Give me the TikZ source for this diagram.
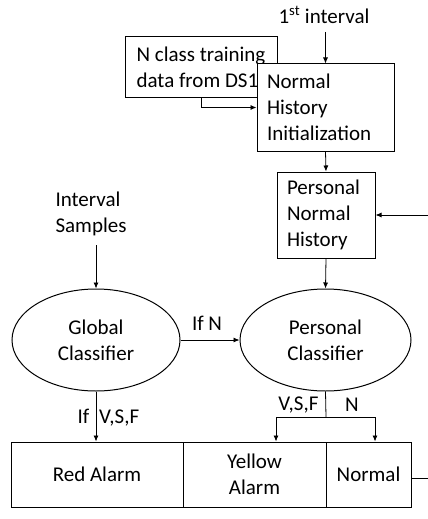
\documentclass[tikz,border=0pt]{standalone}
\usepackage{fontspec}
\setmainfont{Carlito}
\usetikzlibrary{arrows.meta,shapes.geometric}

\tikzset{
    box/.style = {draw, line width=1pt, fill=white, align=left, inner xsep=10pt, anchor=center},
    oval/.style = {draw, ellipse, line width=1pt, align=center, inner sep=0pt},
    arr/.style = {line width=0.8pt, -{Latex[length=6pt,width=5pt]}},
    lin/.style = {line width=0.8pt}
}

\begin{document}
\begin{tikzpicture}[x=1pt, y=-1pt, font=\fontsize{21}{26}\selectfont]
        \useasboundingbox (0,0) rectangle (428,519);

        % top label
        \node (first) at (324,15) {1\textsuperscript{st} interval};

        % training data box
        \node[box, minimum width=152pt, minimum height=60pt] (ncls) at (201,67)
            {N class training\\data from DS1};

        % normal history init box
        \node[box, minimum width=137pt, minimum height=87pt, text width=117pt] (nhi) at (325.5,107.5)
            {Normal\\History\\Initialization};

        % personal normal history box
        \node[box, minimum width=98pt, minimum height=86pt, text width=78pt] (pnh) at (326,215)
            {Personal\\Normal\\History};

        % samples text
        \node[align=left, anchor=west] (samples) at (52,214) {Interval\\Samples};

        % classifiers
        \node[oval, minimum width=168pt, minimum height=102pt] (global) at (96,340) {Global\\Classifier};
        \node[oval, minimum width=171pt, minimum height=102pt] (pcls) at (325.5,340) {Personal\\Classifier};

        % alarm boxes
        \node[box, align=center, minimum width=172pt, minimum height=65pt] (red) at (97,474.5) {Red Alarm};
        \node[box, align=center, minimum width=143pt, minimum height=65pt] (yellow) at (254.5,474.5) {Yellow\\Alarm};
        \node[box, align=center, minimum width=85pt, minimum height=65pt] (normal) at (368.5,474.5) {Normal};

        % free ends
        \coordinate (fbin) at (428,215);
        \coordinate (fbout) at (428,478);
        \coordinate (split) at (326,417);

        % arrows top
        \draw[arr] (nhi.north |- 0,32) -- (nhi.north);
        \draw[arr] (ncls.south) |- (nhi.west);
        \draw[arr] (nhi.south) -- (pnh.north);
        \draw[arr] (fbin) -- (pnh.east);

        % arrows middle
        \draw[arr] (global.north |- 0,245) -- (global.north);
        \draw[arr] (pnh.south) -- (pcls.north);
        \draw[arr] (global.east) -- (pcls.west);
        \node (ifn) at (207,323) {If N};

        % arrows bottom
        \draw[arr] (global.south) -- (global.south |- red.north);
        \node[anchor=west] (ifvsf) at (74,418) {If\hspace{10pt}V,S,F};
        \draw[lin] (pcls.south) -- (split);
        \draw[arr] (split) -| ([xshift=21.5pt]yellow.north);
        \draw[arr] (split) -| ([xshift=6.5pt]normal.north);
        \node[anchor=east] (vsf) at (322,405) {V,S,F};
        \node (nlab) at (352,405) {N};
        \draw[lin] (normal.east |- fbout) -- (fbout);
\end{tikzpicture}
\end{document}
